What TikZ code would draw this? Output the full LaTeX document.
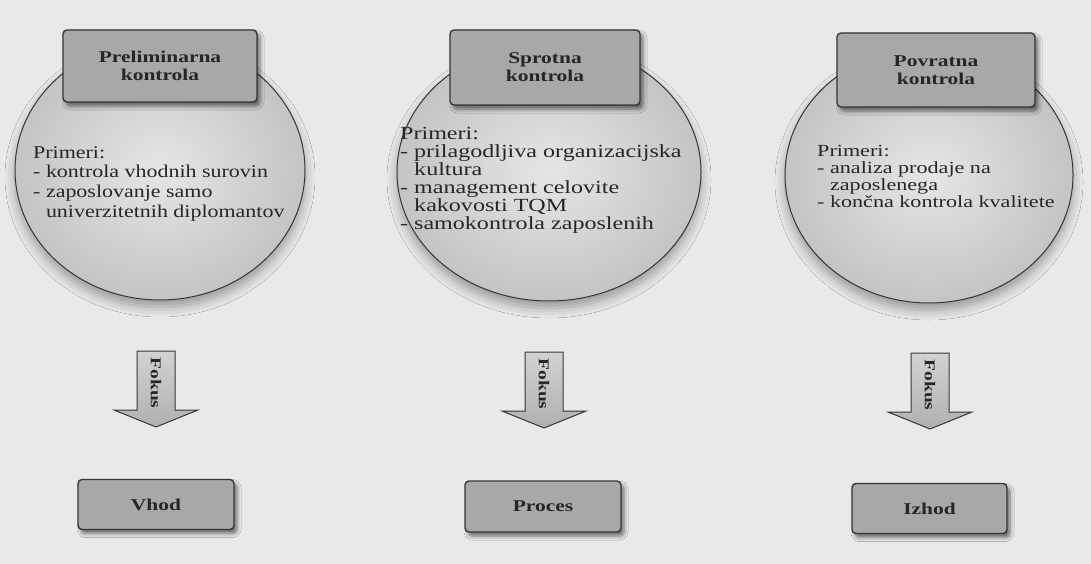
\documentclass[tikz,border=0pt]{standalone}
\usepackage{fontspec}
\setmainfont{Liberation Serif}[FakeStretch=1.3]
\newfontfamily\narrowserif{Liberation Serif}[FakeStretch=1.22]
\usetikzlibrary{shapes.geometric,shadows.blur}

\definecolor{paper}{HTML}{E9E9E9}
\definecolor{ink}{HTML}{262626}
\definecolor{edge}{HTML}{363636}
\definecolor{boxgray}{HTML}{A8A8A8}
\definecolor{ellin}{HTML}{E6E6E6}
\definecolor{ellout}{HTML}{C4C4C4}
\definecolor{arrowlight}{HTML}{D2D2D2}
\definecolor{arrowdark}{HTML}{B0B0B0}

\tikzset{
  bubble/.style={ellipse, draw=edge, line width=1pt, inner sep=0pt,
    inner color=ellin, outer color=ellout,
    blur shadow={shadow xshift=0pt, shadow yshift=-7pt, shadow blur radius=10pt, shadow opacity=35}},
  labelbox/.style={rectangle, rounded corners=4pt, draw=edge, line width=1.4pt,
    fill=boxgray, text=ink, inner sep=0pt, align=center,
    font=\fontsize{16.5}{18}\selectfont\bfseries,
    blur shadow={shadow xshift=3pt, shadow yshift=-4pt, shadow blur radius=4pt, shadow opacity=55}},
  examples/.style={anchor=north west, inner sep=0pt, align=left, text=ink},
  arrowbody/.style={draw=edge, line width=1pt, top color=arrowlight, bottom color=arrowdark},
  fokustext/.style={rotate=-90, font=\fontsize{15}{15}\selectfont\bfseries, text=ink, inner sep=0pt},
  pics/fokus/.style={code={
    \path[arrowbody] (-19,0) -- (19,0) -- (19,59) -- (42,59) -- (0,76)
      -- (-42,59) -- (-19,59) -- cycle;
    \node[fokustext] (-label) at (0,32) {Fokus};
  }},
}

\begin{document}
\begin{tikzpicture}[x=1pt, y=-1pt]
  % paper
  \fill[paper] (0,0) rectangle (1091,564);
  \useasboundingbox (0,0) rectangle (1091,564);

  % the three kinds of control
  \node[bubble, minimum width=290pt, minimum height=260pt] (e1) at (160,170) {};
  \node[bubble, minimum width=304pt, minimum height=258pt] (e2) at (549,172) {};
  \node[bubble, minimum width=288pt, minimum height=256pt] (e3) at (929,175) {};

  \node[labelbox, minimum width=194pt, minimum height=72pt] (h1) at (160,66)
    {Preliminarna\\kontrola};
  \node[labelbox, minimum width=190pt, minimum height=75pt] (h2) at (545,67.5)
    {Sprotna\\kontrola};
  \node[labelbox, minimum width=198pt, minimum height=74pt] (h3) at (936,70)
    {Povratna\\kontrola};

  \node[examples, font=\narrowserif\fontsize{18}{19.7}\selectfont] (t1) at (33,146)
    {Primeri:\\- kontrola vhodnih surovin\\- zaposlovanje samo\\\phantom{- }univerzitetnih diplomantov};
  \node[examples, font=\fontsize{18.5}{18}\selectfont] (t2) at (400,127)
    {Primeri:\\- prilagodljiva organizacijska\\\phantom{- }kultura\\- management celovite\\\phantom{- }kakovosti TQM\\- samokontrola zaposlenih};
  \node[examples, font=\fontsize{17}{17}\selectfont] (t3) at (817,145)
    {Primeri:\\- analiza prodaje na\\\phantom{- }zaposlenega\\- končna kontrola kvalitete};

  % focus arrows
  \pic (f1) at (156,351) {fokus};
  \pic (f2) at (544,352) {fokus};
  \pic (f3) at (930,353) {fokus};

  % focus targets
  \node[labelbox, minimum width=156pt, minimum height=50pt] (b1) at (156,504.5) {Vhod};
  \node[labelbox, minimum width=156pt, minimum height=51pt] (b2) at (543,506.5) {Proces};
  \node[labelbox, minimum width=155pt, minimum height=50pt] (b3) at (929.5,508.5) {Izhod};
\end{tikzpicture}
\end{document}
